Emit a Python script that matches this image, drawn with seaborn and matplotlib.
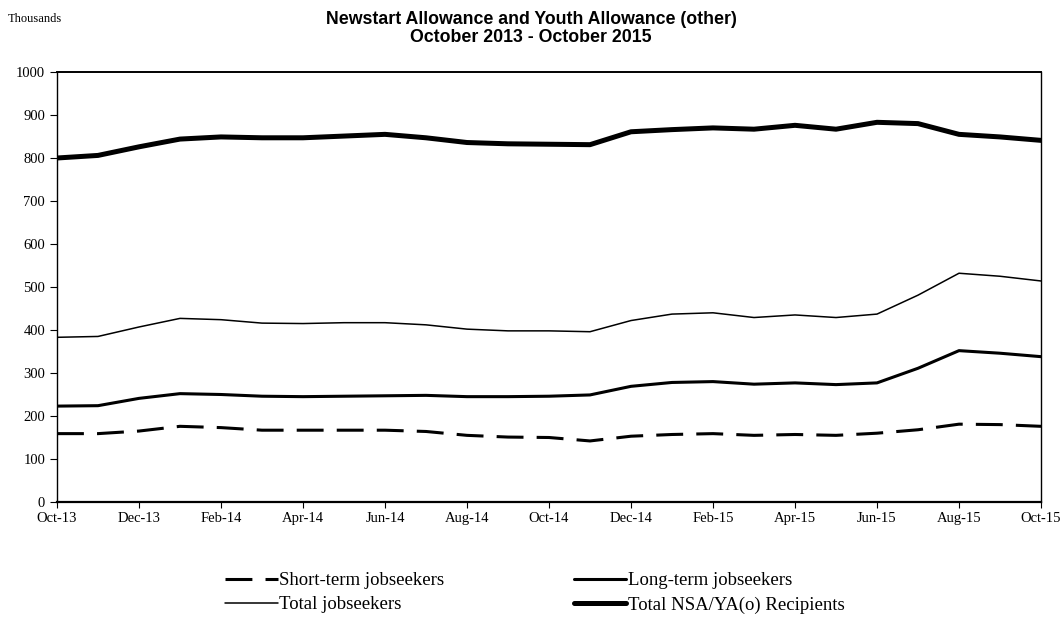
import matplotlib
matplotlib.use("Agg")
import matplotlib.pyplot as plt
import seaborn as sns
import pandas as pd
from matplotlib.lines import Line2D

months = ["Oct-13", "Nov-13", "Dec-13", "Jan-14", "Feb-14", "Mar-14", "Apr-14", "May-14",
          "Jun-14", "Jul-14", "Aug-14", "Sep-14", "Oct-14", "Nov-14", "Dec-14", "Jan-15",
          "Feb-15", "Mar-15", "Apr-15", "May-15", "Jun-15", "Jul-15", "Aug-15", "Sep-15", "Oct-15"]

short_term = [159, 159, 165, 176, 173, 167, 167, 167, 167, 164, 155, 151, 150, 142, 153, 157,
              159, 155, 157, 155, 160, 168, 181, 180, 176]
long_term = [223, 224, 241, 252, 250, 246, 245, 246, 247, 248, 245, 245, 246, 249, 269, 278,
             280, 274, 277, 273, 277, 311, 352, 346, 338]
total_js = [383, 385, 407, 427, 424, 416, 415, 417, 417, 412, 402, 398, 398, 396, 422, 437,
            440, 429, 435, 429, 437, 481, 532, 525, 514]
total_nsa = [800, 806, 826, 844, 849, 847, 847, 851, 855, 847, 836, 833, 832, 831, 861, 866,
             870, 867, 876, 867, 883, 880, 855, 849, 841]

tick_labels = months[::2]

df = pd.DataFrame({"idx": range(len(months)), "short": short_term, "long": long_term,
                   "total": total_js, "nsa": total_nsa})

sns.set_theme(style="white")
plt.rcParams["font.family"] = ["Liberation Serif", "DejaVu Serif"]
plt.rcParams["text.color"] = "black"

fig = plt.figure(figsize=(10.61, 6.44), dpi=100)
ax = fig.add_axes([57 / 1061, 1 - 502 / 644, (1041 - 57) / 1061, (502 - 72) / 644])

sns.lineplot(data=df, x="idx", y="nsa", ax=ax, color="black", linewidth=3.6)
sns.lineplot(data=df, x="idx", y="total", ax=ax, color="black", linewidth=1.1)
sns.lineplot(data=df, x="idx", y="long", ax=ax, color="black", linewidth=2.2)
sns.lineplot(data=df, x="idx", y="short", ax=ax, color="black", linewidth=2.2)
ax.lines[-1].set_dashes((8.8, 4.3))

ax.set_xlim(0, len(months) - 1)
ax.set_ylim(0, 1000)
ax.set_yticks(range(0, 1001, 100))
ax.set_xticks(range(0, len(months), 2))
ax.set_xticklabels(tick_labels)
ax.set_xlabel("")
ax.set_ylabel("")
ax.tick_params(axis="both", labelsize=10.5, colors="black", width=0.8,
               direction="out", left=True, bottom=True)
ax.tick_params(axis="y", length=5)
ax.tick_params(axis="x", length=4)
for s in ax.spines.values():
    s.set_color("black")
    s.set_linewidth(1.0)
ax.spines["bottom"].set_linewidth(1.6)
ax.spines["top"].set_linewidth(1.4)

fig.text(531 / 1061, 1 - 19 / 644, "Newstart Allowance and Youth Allowance (other)",
         ha="center", va="center", fontsize=12.8, fontweight="bold", color="black",
         family=["Liberation Sans", "DejaVu Sans"])
fig.text(531 / 1061, 1 - 37 / 644, "October 2013 - October 2015",
         ha="center", va="center", fontsize=12.8, fontweight="bold", color="black",
         family=["Liberation Sans", "DejaVu Sans"])
fig.text(8 / 1061, 1 - 19 / 644, "Thousands", ha="left", va="center", fontsize=9,
         color="black")

handles = [
    Line2D([], [], color="black", linewidth=2.2, dashes=(8.8, 4.3)),
    Line2D([], [], color="black", linewidth=1.1),
    Line2D([], [], color="black", linewidth=2.2),
    Line2D([], [], color="black", linewidth=3.6),
]
labels = ["Short-term jobseekers", "Total jobseekers", "Long-term jobseekers",
          "Total NSA/YA(o) Recipients"]
fig.legend(handles, labels, loc="upper left", bbox_to_anchor=(225 / 1061, 1 - 572 / 644),
           ncol=2, frameon=False, fontsize=13.5, handlelength=2.8, handletextpad=0.1,
           columnspacing=6.9, labelspacing=0.38, borderpad=0, borderaxespad=0,
           labelcolor="black")

fig.savefig("out.png", dpi=100)
